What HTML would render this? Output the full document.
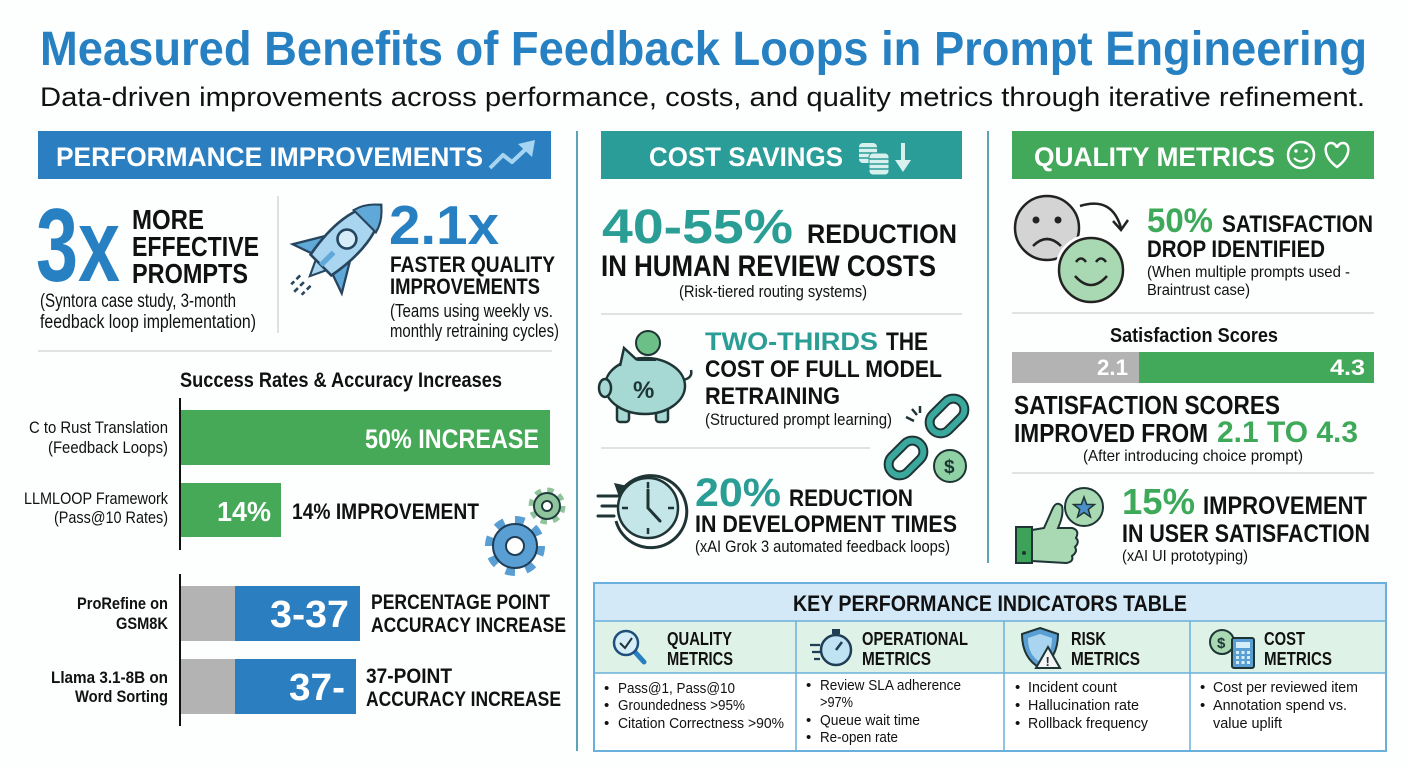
<!DOCTYPE html>
<html><head><meta charset="utf-8"><style>
html,body{margin:0;padding:0;background:#fff;}
svg{display:block;}
text{font-family:"Liberation Sans",Arial,sans-serif;}
.b{font-weight:bold;}
</style></head><body>
<svg width="1408" height="768" viewBox="0 0 1408 768" xmlns="http://www.w3.org/2000/svg">
<rect width="1408" height="768" fill="#fdfefe"/>

<!-- Title -->
<text x="40" y="65" font-size="48" class="b" fill="#2680c2" textLength="1327" lengthAdjust="spacingAndGlyphs">Measured Benefits of Feedback Loops in Prompt Engineering</text>
<text x="40" y="106" font-size="27" fill="#111" textLength="1325" lengthAdjust="spacingAndGlyphs">Data-driven improvements across performance, costs, and quality metrics through iterative refinement.</text>

<!-- Vertical dividers -->
<line x1="577" y1="131" x2="577" y2="751" stroke="#5aa3b8" stroke-width="2"/>
<line x1="988" y1="131" x2="988" y2="563" stroke="#5aa3b8" stroke-width="2"/>

<!-- Banners -->
<rect x="38" y="131" width="513" height="48" fill="#2b7fc1"/>
<text x="56" y="166" font-size="27" class="b" fill="#fff" textLength="427" lengthAdjust="spacingAndGlyphs">PERFORMANCE IMPROVEMENTS</text>
<polyline points="490,168 503,155 512,162 527,148" stroke="#a6d5f2" stroke-width="4" fill="none" stroke-linejoin="round"/>
<polygon points="518,144 535,140 532,157" fill="#a6d5f2"/>

<rect x="601" y="131" width="361" height="48" fill="#2a9d98"/>
<text x="649" y="166" font-size="27" class="b" fill="#fff" textLength="194" lengthAdjust="spacingAndGlyphs">COST SAVINGS</text>
<rect x="859" y="143" width="18" height="20" rx="4" fill="#d8f0ee"/>
<line x1="859" y1="148" x2="877" y2="148" stroke="#2a9d98" stroke-width="1.5"/>
<line x1="859" y1="153" x2="877" y2="153" stroke="#2a9d98" stroke-width="1.5"/>
<line x1="859" y1="158" x2="877" y2="158" stroke="#2a9d98" stroke-width="1.5"/>
<rect x="869" y="153" width="20" height="22" rx="4" fill="#d8f0ee" stroke="#2a9d98" stroke-width="1"/>
<line x1="869" y1="159" x2="889" y2="159" stroke="#2a9d98" stroke-width="1.5"/>
<line x1="869" y1="164" x2="889" y2="164" stroke="#2a9d98" stroke-width="1.5"/>
<line x1="869" y1="169" x2="889" y2="169" stroke="#2a9d98" stroke-width="1.5"/>
<line x1="903" y1="143" x2="903" y2="163" stroke="#d8f0ee" stroke-width="4"/>
<polygon points="895,160 911,160 903,172" fill="#d8f0ee"/>

<rect x="1012" y="131" width="362" height="48" fill="#42a85a"/>
<text x="1034" y="166" font-size="27" class="b" fill="#fff" textLength="241" lengthAdjust="spacingAndGlyphs">QUALITY METRICS</text>
<circle cx="1301" cy="155" r="13" stroke="#fff" stroke-width="2.5" fill="none"/>
<circle cx="1296" cy="151" r="1.7" fill="#fff"/><circle cx="1306" cy="151" r="1.7" fill="#fff"/>
<path d="M1294,158 Q1301,165 1308,158" stroke="#fff" stroke-width="2.2" fill="none"/>
<path d="M1337,167 C1322,156 1324,143 1331,143 C1335,143 1337,147 1337,148 C1337,147 1339,143 1343,143 C1350,143 1352,156 1337,167Z" stroke="#fff" stroke-width="2.5" fill="none"/>

<!-- Column 1 top -->
<text x="36" y="281" font-size="104" class="b" fill="#2680c2" textLength="84" lengthAdjust="spacingAndGlyphs">3x</text>
<text x="132" y="229" font-size="28" class="b" fill="#111" textLength="72" lengthAdjust="spacingAndGlyphs">MORE</text>
<text x="132" y="256" font-size="28" class="b" fill="#111" textLength="127" lengthAdjust="spacingAndGlyphs">EFFECTIVE</text>
<text x="132" y="283" font-size="28" class="b" fill="#111" textLength="116" lengthAdjust="spacingAndGlyphs">PROMPTS</text>
<text x="40" y="307" font-size="19" fill="#111" textLength="196" lengthAdjust="spacingAndGlyphs">(Syntora case study, 3-month</text>
<text x="40" y="328" font-size="19" fill="#111" textLength="216" lengthAdjust="spacingAndGlyphs">feedback loop implementation)</text>
<line x1="278" y1="196" x2="278" y2="333" stroke="#d6d6d6" stroke-width="1.5"/>

<!-- Rocket -->
<g transform="translate(341,245) rotate(45) scale(1.05)">
 <path d="M-7,48 L-7,60 M0,50 L0,66 M7,48 L7,60" stroke="#26455e" stroke-width="2.5" stroke-dasharray="5 3"/>
 <path d="M-8,25 L0,42 L8,25Z" fill="#a9d5f0" stroke="#26455e" stroke-width="2"/>
 <path d="M-14,0 L-33,32 L-13,25 Z" fill="#5fa8d8" stroke="#26455e" stroke-width="2.2"/>
 <path d="M14,0 L33,32 L13,25 Z" fill="#5fa8d8" stroke="#26455e" stroke-width="2.2"/>
 <path d="M0,-54 C18,-37 20,-5 14,27 L-14,27 C-20,-5 -18,-37 0,-54 Z" fill="#a9d5f0" stroke="#26455e" stroke-width="2.5"/>
 <path d="M0,-54 C9,-47 13,-40 15,-32 L-15,-32 C-13,-40 -9,-47 0,-54Z" fill="#5fa8d8" stroke="#26455e" stroke-width="2"/>
 <circle cx="0" cy="-8" r="9" fill="#d6ecf9" stroke="#26455e" stroke-width="2.5"/>
 <path d="M0,10 L0,27" stroke="#5fa8d8" stroke-width="5"/>
</g>

<text x="389" y="244" font-size="55" class="b" fill="#2680c2" textLength="110" lengthAdjust="spacingAndGlyphs">2.1x</text>
<text x="390" y="272" font-size="22" class="b" fill="#111" textLength="165" lengthAdjust="spacingAndGlyphs">FASTER QUALITY</text>
<text x="390" y="294" font-size="22" class="b" fill="#111" textLength="150" lengthAdjust="spacingAndGlyphs">IMPROVEMENTS</text>
<text x="390" y="317" font-size="18" fill="#111" textLength="163" lengthAdjust="spacingAndGlyphs">(Teams using weekly vs.</text>
<text x="390" y="337" font-size="18" fill="#111" textLength="169" lengthAdjust="spacingAndGlyphs">monthly retraining cycles)</text>

<line x1="38" y1="351" x2="552" y2="351" stroke="#d9d9d9" stroke-width="1.5"/>

<!-- Chart -->
<text x="180" y="387" font-size="21" class="b" fill="#111" textLength="322" lengthAdjust="spacingAndGlyphs">Success Rates &amp; Accuracy Increases</text>
<line x1="180" y1="398" x2="180" y2="550" stroke="#111" stroke-width="2"/>
<rect x="181" y="410" width="369" height="55" fill="#45a957"/>
<text x="365" y="448" font-size="27" class="b" fill="#fff" textLength="174" lengthAdjust="spacingAndGlyphs">50% INCREASE</text>
<text x="29" y="433" font-size="17" fill="#111" textLength="139" lengthAdjust="spacingAndGlyphs">C to Rust Translation</text>
<text x="48" y="453" font-size="17" fill="#111" textLength="120" lengthAdjust="spacingAndGlyphs">(Feedback Loops)</text>

<rect x="181" y="483" width="100" height="54" fill="#45a957"/>
<text x="217" y="521" font-size="28" class="b" fill="#fff" textLength="54" lengthAdjust="spacingAndGlyphs">14%</text>
<text x="292" y="519" font-size="22" class="b" fill="#111" textLength="187" lengthAdjust="spacingAndGlyphs">14% IMPROVEMENT</text>
<text x="24" y="504" font-size="17" fill="#111" textLength="144" lengthAdjust="spacingAndGlyphs">LLMLOOP Framework</text>
<text x="54" y="523" font-size="17" fill="#111" textLength="114" lengthAdjust="spacingAndGlyphs">(Pass@10 Rates)</text>

<!-- Gears -->
<circle cx="547" cy="506" r="15" fill="none" stroke="#8fc49c" stroke-width="7" stroke-dasharray="6 5.8"/>
<circle cx="547" cy="506" r="13" fill="#8fc49c" stroke="#1f3d3d" stroke-width="2"/>
<circle cx="547" cy="506" r="5" fill="#fff" stroke="#1f3d3d" stroke-width="2"/>
<circle cx="515" cy="546" r="25" fill="none" stroke="#5a9fd4" stroke-width="10" stroke-dasharray="9 10.6"/>
<circle cx="515" cy="546" r="22" fill="#5a9fd4" stroke="#1f3d55" stroke-width="2"/>
<circle cx="515" cy="546" r="9" fill="#fff" stroke="#1f3d55" stroke-width="2"/>

<line x1="180" y1="574" x2="180" y2="726" stroke="#111" stroke-width="2"/>
<rect x="181" y="586" width="54" height="55" fill="#b3b3b3"/>
<rect x="235" y="586" width="125" height="55" fill="#2b7fc1"/>
<text x="270" y="627" font-size="38" class="b" fill="#fff" textLength="79" lengthAdjust="spacingAndGlyphs">3-37</text>
<text x="371" y="609" font-size="21" class="b" fill="#111" textLength="179" lengthAdjust="spacingAndGlyphs">PERCENTAGE POINT</text>
<text x="371" y="632" font-size="21" class="b" fill="#111" textLength="195" lengthAdjust="spacingAndGlyphs">ACCURACY INCREASE</text>
<text x="77" y="609" font-size="17" class="b" fill="#111" textLength="91" lengthAdjust="spacingAndGlyphs">ProRefine on</text>
<text x="116" y="629" font-size="17" class="b" fill="#111" textLength="52" lengthAdjust="spacingAndGlyphs">GSM8K</text>

<rect x="181" y="659" width="54" height="55" fill="#b3b3b3"/>
<rect x="235" y="659" width="121" height="55" fill="#2b7fc1"/>
<text x="289" y="700" font-size="38" class="b" fill="#fff" textLength="56" lengthAdjust="spacingAndGlyphs">37-</text>
<text x="366" y="683" font-size="21" class="b" fill="#111" textLength="86" lengthAdjust="spacingAndGlyphs">37-POINT</text>
<text x="366" y="706" font-size="21" class="b" fill="#111" textLength="195" lengthAdjust="spacingAndGlyphs">ACCURACY INCREASE</text>
<text x="51" y="683" font-size="17" class="b" fill="#111" textLength="117" lengthAdjust="spacingAndGlyphs">Llama 3.1-8B on</text>
<text x="75" y="702" font-size="17" class="b" fill="#111" textLength="93" lengthAdjust="spacingAndGlyphs">Word Sorting</text>

<!-- Column 2 -->
<text x="602" y="243" font-size="48" class="b" fill="#2a9d94" textLength="191" lengthAdjust="spacingAndGlyphs">40-55%</text>
<text x="807" y="243" font-size="27" class="b" fill="#111" textLength="150" lengthAdjust="spacingAndGlyphs">REDUCTION</text>
<text x="601" y="276" font-size="30" class="b" fill="#111" textLength="335" lengthAdjust="spacingAndGlyphs">IN HUMAN REVIEW COSTS</text>
<text x="679" y="297" font-size="17" fill="#111" textLength="188" lengthAdjust="spacingAndGlyphs">(Risk-tiered routing systems)</text>
<line x1="601" y1="314" x2="962" y2="314" stroke="#d9d9d9" stroke-width="1.5"/>

<!-- Piggy -->
<g stroke="#1f3535" stroke-width="2.5">
 <rect x="617" y="404" width="12" height="18" rx="3" fill="#a6d9d3"/>
 <rect x="656" y="404" width="12" height="18" rx="3" fill="#a6d9d3"/>
 <path d="M683,380 q10,-2 8,-10" fill="none"/>
 <ellipse cx="645" cy="386" rx="40" ry="28" fill="#a6d9d3"/>
 <path d="M620,366 L624,348 L637,360" fill="#a6d9d3"/>
 <ellipse cx="605" cy="388" rx="6" ry="9" fill="#a6d9d3"/>
 <line x1="637" y1="360" x2="656" y2="360" stroke-width="2"/>
 <circle cx="648" cy="343" r="12" fill="#6dbf88" stroke-width="2"/>
</g>
<text x="633" y="398" font-size="24" class="b" fill="#1f3535">%</text>

<text x="705" y="350" font-size="25" class="b" fill="#2a9d94" textLength="173" lengthAdjust="spacingAndGlyphs">TWO-THIRDS</text>
<text x="886" y="350" font-size="25" class="b" fill="#111" textLength="42" lengthAdjust="spacingAndGlyphs">THE</text>
<text x="705" y="377" font-size="24" class="b" fill="#111" textLength="237" lengthAdjust="spacingAndGlyphs">COST OF FULL MODEL</text>
<text x="705" y="404" font-size="24" class="b" fill="#111" textLength="135" lengthAdjust="spacingAndGlyphs">RETRAINING</text>
<text x="705" y="425" font-size="17" fill="#111" textLength="187" lengthAdjust="spacingAndGlyphs">(Structured prompt learning)</text>

<!-- Chain -->
<g transform="translate(947,416) rotate(45)">
 <rect x="-11" y="-20" width="22" height="40" rx="11" fill="none" stroke="#1f3535" stroke-width="10"/>
 <rect x="-11" y="-20" width="22" height="40" rx="11" fill="none" stroke="#3aa89d" stroke-width="6"/>
</g>
<g transform="translate(906,458) rotate(45)">
 <rect x="-11" y="-20" width="22" height="40" rx="11" fill="none" stroke="#1f3535" stroke-width="10"/>
 <rect x="-11" y="-20" width="22" height="40" rx="11" fill="none" stroke="#3aa89d" stroke-width="6"/>
</g>
<path d="M906,417 L914,421 M912,409 L917,415 M920,406 L920,413" stroke="#1f3535" stroke-width="2.5"/>
<circle cx="950" cy="466" r="16" fill="#8fd1a5" stroke="#1f3535" stroke-width="2"/>
<text x="944" y="473" font-size="19" class="b" fill="#1f3535">$</text>

<line x1="601" y1="448" x2="870" y2="448" stroke="#d9d9d9" stroke-width="1.5"/>

<!-- Clock -->
<circle cx="648" cy="508" r="30" fill="#c4e6e8" stroke="#1f3535" stroke-width="2.5"/>
<path d="M622,490 A36,36 0 1 1 616,521" fill="none" stroke="#1f3535" stroke-width="3"/>
<polygon points="614,483 628,486 619,497" fill="#1f3535"/>
<path d="M648,482 v6 M674,508 h-6 M648,534 v-6 M622,508 h6" stroke="#1f3535" stroke-width="2.5"/>
<path d="M648,508 V490 M648,508 L660,521" stroke="#1f3535" stroke-width="3" stroke-linecap="round"/>
<path d="M598,496 h20 M602,506 h14 M598,516 h16" stroke="#1f3535" stroke-width="3" stroke-linecap="round"/>

<text x="695" y="506" font-size="40" class="b" fill="#2a9d94" textLength="86" lengthAdjust="spacingAndGlyphs">20%</text>
<text x="789" y="506" font-size="24" class="b" fill="#111" textLength="124" lengthAdjust="spacingAndGlyphs">REDUCTION</text>
<text x="695" y="532" font-size="24" class="b" fill="#111" textLength="262" lengthAdjust="spacingAndGlyphs">IN DEVELOPMENT TIMES</text>
<text x="695" y="552" font-size="17" fill="#111" textLength="255" lengthAdjust="spacingAndGlyphs">(xAI Grok 3 automated feedback loops)</text>

<!-- Column 3 -->
<circle cx="1047" cy="228" r="32" fill="#d4d4d4" stroke="#222" stroke-width="2.5"/>
<circle cx="1036" cy="220" r="3.5" fill="#222"/><circle cx="1058" cy="220" r="3.5" fill="#222"/>
<path d="M1033,246 Q1047,232 1061,246" stroke="#222" stroke-width="2.5" fill="none"/>
<circle cx="1091" cy="270" r="36" fill="#fff"/>
<circle cx="1091" cy="270" r="32" fill="#a8d9b2" stroke="#222" stroke-width="2.5"/>
<path d="M1076,262 Q1081,255 1086,262 M1096,262 Q1101,255 1106,262" stroke="#222" stroke-width="2.5" fill="none"/>
<path d="M1075,276 Q1091,294 1107,276" stroke="#222" stroke-width="2.5" fill="none"/>
<path d="M1080,206 Q1112,196 1121,228" stroke="#222" stroke-width="2.5" fill="none"/>
<polyline points="1113,221 1121,230 1128,220" stroke="#222" stroke-width="2.5" fill="none"/>

<text x="1147" y="232" font-size="34" class="b" fill="#3fa95a" textLength="66" lengthAdjust="spacingAndGlyphs">50%</text>
<text x="1222" y="232" font-size="24" class="b" fill="#111" textLength="151" lengthAdjust="spacingAndGlyphs">SATISFACTION</text>
<text x="1147" y="257" font-size="24" class="b" fill="#111" textLength="178" lengthAdjust="spacingAndGlyphs">DROP IDENTIFIED</text>
<text x="1147" y="277" font-size="16" fill="#111" textLength="203" lengthAdjust="spacingAndGlyphs">(When multiple prompts used -</text>
<text x="1147" y="295" font-size="16" fill="#111" textLength="103" lengthAdjust="spacingAndGlyphs">Braintrust case)</text>
<line x1="1012" y1="313" x2="1374" y2="313" stroke="#d9d9d9" stroke-width="1.5"/>

<text x="1110" y="342" font-size="20" class="b" fill="#111" textLength="168" lengthAdjust="spacingAndGlyphs">Satisfaction Scores</text>
<rect x="1012" y="352" width="127" height="31" fill="#b3b3b3"/>
<rect x="1139" y="352" width="235" height="31" fill="#42a85a"/>
<text x="1097" y="375" font-size="22" class="b" fill="#fff" textLength="31" lengthAdjust="spacingAndGlyphs">2.1</text>
<text x="1330" y="375" font-size="22" class="b" fill="#fff" textLength="35" lengthAdjust="spacingAndGlyphs">4.3</text>

<text x="1014" y="414" font-size="26" class="b" fill="#111" textLength="266" lengthAdjust="spacingAndGlyphs">SATISFACTION SCORES</text>
<text x="1014" y="442" font-size="26" class="b" fill="#111" textLength="194" lengthAdjust="spacingAndGlyphs">IMPROVED FROM</text>
<text x="1217" y="442" font-size="30" class="b" fill="#3fa95a" textLength="141" lengthAdjust="spacingAndGlyphs">2.1 TO 4.3</text>
<text x="1083" y="461" font-size="16" fill="#111" textLength="220" lengthAdjust="spacingAndGlyphs">(After introducing choice prompt)</text>
<line x1="1012" y1="473" x2="1374" y2="473" stroke="#d9d9d9" stroke-width="1.5"/>

<!-- Thumbs up -->
<path d="M1032,530 L1044,528 L1052,510 Q1056,500 1062,506 Q1064,515 1058,528 L1072,528 Q1080,530 1076,538 Q1080,542 1075,547 Q1078,552 1072,556 Q1074,562 1066,563 L1032,561 Z" fill="#a8d9b2" stroke="#1f3535" stroke-width="2"/>
<rect x="1016" y="527" width="16" height="36" fill="#3da35a" stroke="#1f3535" stroke-width="2"/>
<circle cx="1024" cy="553" r="2" fill="#1f3535"/>
<circle cx="1084" cy="507" r="19" fill="#a8d9b2" stroke="#1f3535" stroke-width="2"/>
<polygon transform="translate(1084,508)" points="0,-11 2.65,-3.64 10.46,-3.4 4.28,1.39 6.47,8.9 0,4.5 -6.47,8.9 -4.28,1.39 -10.46,-3.4 -2.65,-3.64" fill="#4a90c8" stroke="#1f3535" stroke-width="1.5"/>

<text x="1122" y="514" font-size="36" class="b" fill="#3fa95a" textLength="73" lengthAdjust="spacingAndGlyphs">15%</text>
<text x="1203" y="514" font-size="25" class="b" fill="#111" textLength="164" lengthAdjust="spacingAndGlyphs">IMPROVEMENT</text>
<text x="1122" y="542" font-size="25" class="b" fill="#111" textLength="248" lengthAdjust="spacingAndGlyphs">IN USER SATISFACTION</text>
<text x="1122" y="561" font-size="16" fill="#111" textLength="126" lengthAdjust="spacingAndGlyphs">(xAI UI prototyping)</text>

<!-- KPI Table -->
<rect x="594" y="583" width="792" height="168" fill="#fff"/>
<rect x="594" y="583" width="792" height="38" fill="#d3e9f7"/>
<rect x="594" y="621" width="792" height="52" fill="#dff2e7"/>
<rect x="594" y="583" width="792" height="168" fill="none" stroke="#6ab0dc" stroke-width="2"/>
<line x1="594" y1="621" x2="1386" y2="621" stroke="#6ab0dc" stroke-width="1.5"/>
<line x1="594" y1="673" x2="1386" y2="673" stroke="#6ab0dc" stroke-width="1.5"/>
<line x1="796" y1="621" x2="796" y2="751" stroke="#6ab0dc" stroke-width="1.5"/>
<line x1="1004" y1="621" x2="1004" y2="751" stroke="#6ab0dc" stroke-width="1.5"/>
<line x1="1190" y1="621" x2="1190" y2="751" stroke="#6ab0dc" stroke-width="1.5"/>
<text x="793" y="611" font-size="22" class="b" fill="#111" textLength="394" lengthAdjust="spacingAndGlyphs">KEY PERFORMANCE INDICATORS TABLE</text>

<!-- table icons -->
<line x1="635" y1="652" x2="644" y2="662" stroke="#2a7fc1" stroke-width="5" stroke-linecap="round"/>
<circle cx="626" cy="643" r="12" fill="#d5ecf9" stroke="#1f4f7a" stroke-width="2.5"/>
<path d="M620,643 L625,648 L632,638" stroke="#1f3535" stroke-width="2" fill="none"/>

<rect x="832" y="629" width="8" height="5" fill="#1f3d55"/>
<circle cx="836" cy="650" r="15" fill="#bfe3f2" stroke="#1f3d55" stroke-width="2.5"/>
<path d="M836,650 L842,642" stroke="#1f3d55" stroke-width="2.5"/>
<path d="M810,645 h10 M812,652 h8 M814,659 h6" stroke="#1f3d55" stroke-width="2.2"/>

<path d="M1040,628 L1058,634 Q1058,658 1040,668 Q1022,658 1022,634 Z" fill="#5a9fd4" stroke="#1f3535" stroke-width="2"/>
<path d="M1040,634 L1052,638 Q1052,655 1040,662 Q1028,655 1028,638 Z" fill="#a9d5f0"/>
<polygon points="1048,647 1060,668 1036,668" fill="#f4f4f4" stroke="#1f3535" stroke-width="2"/>
<text x="1045.5" y="666" font-size="13" class="b" fill="#1f3535">!</text>

<circle cx="1222" cy="642" r="12" fill="#a8d9b2" stroke="#1f3535" stroke-width="2"/>
<text x="1217" y="648" font-size="15" class="b" fill="#1f3535">$</text>
<rect x="1232" y="638" width="22" height="30" rx="2" fill="#5a9fd4" stroke="#1f3535" stroke-width="2"/>
<rect x="1236" y="642" width="14" height="6" fill="#d5ecf9"/>
<g fill="#d5ecf9"><rect x="1236" y="651" width="3" height="3"/><rect x="1241.5" y="651" width="3" height="3"/><rect x="1247" y="651" width="3" height="3"/><rect x="1236" y="656" width="3" height="3"/><rect x="1241.5" y="656" width="3" height="3"/><rect x="1247" y="656" width="3" height="3"/><rect x="1236" y="661" width="3" height="3"/><rect x="1241.5" y="661" width="3" height="3"/><rect x="1247" y="661" width="3" height="3"/></g>

<g font-size="18" font-weight="bold" fill="#111">
<text x="667" y="645" textLength="65" lengthAdjust="spacingAndGlyphs">QUALITY</text>
<text x="667" y="665" textLength="66" lengthAdjust="spacingAndGlyphs">METRICS</text>
<text x="862" y="645" textLength="106" lengthAdjust="spacingAndGlyphs">OPERATIONAL</text>
<text x="862" y="665" textLength="69" lengthAdjust="spacingAndGlyphs">METRICS</text>
<text x="1071" y="645" textLength="35" lengthAdjust="spacingAndGlyphs">RISK</text>
<text x="1071" y="665" textLength="69" lengthAdjust="spacingAndGlyphs">METRICS</text>
<text x="1264" y="645" textLength="41" lengthAdjust="spacingAndGlyphs">COST</text>
<text x="1264" y="665" textLength="68" lengthAdjust="spacingAndGlyphs">METRICS</text>
</g>

<g font-size="15" fill="#111">
<text x="604" y="693">•</text><text x="618" y="693" textLength="117" lengthAdjust="spacingAndGlyphs">Pass@1, Pass@10</text>
<text x="604" y="710">•</text><text x="618" y="710" textLength="127" lengthAdjust="spacingAndGlyphs">Groundedness &gt;95%</text>
<text x="604" y="728">•</text><text x="618" y="728" textLength="166" lengthAdjust="spacingAndGlyphs">Citation Correctness &gt;90%</text>

<text x="806" y="690">•</text><text x="820" y="690" textLength="141" lengthAdjust="spacingAndGlyphs">Review SLA adherence</text>
<text x="820" y="707" textLength="33" lengthAdjust="spacingAndGlyphs">&gt;97%</text>
<text x="806" y="725">•</text><text x="820" y="725" textLength="100" lengthAdjust="spacingAndGlyphs">Queue wait time</text>
<text x="806" y="742">•</text><text x="820" y="742" textLength="78" lengthAdjust="spacingAndGlyphs">Re-open rate</text>

<text x="1015" y="692">•</text><text x="1028" y="692" textLength="89" lengthAdjust="spacingAndGlyphs">Incident count</text>
<text x="1015" y="710">•</text><text x="1028" y="710" textLength="111" lengthAdjust="spacingAndGlyphs">Hallucination rate</text>
<text x="1015" y="728">•</text><text x="1028" y="728" textLength="120" lengthAdjust="spacingAndGlyphs">Rollback frequency</text>

<text x="1200" y="692">•</text><text x="1213" y="692" textLength="145" lengthAdjust="spacingAndGlyphs">Cost per reviewed item</text>
<text x="1200" y="710">•</text><text x="1213" y="710" textLength="134" lengthAdjust="spacingAndGlyphs">Annotation spend vs.</text>
<text x="1213" y="728" textLength="69" lengthAdjust="spacingAndGlyphs">value uplift</text>
</g>
</svg>
</body></html>
